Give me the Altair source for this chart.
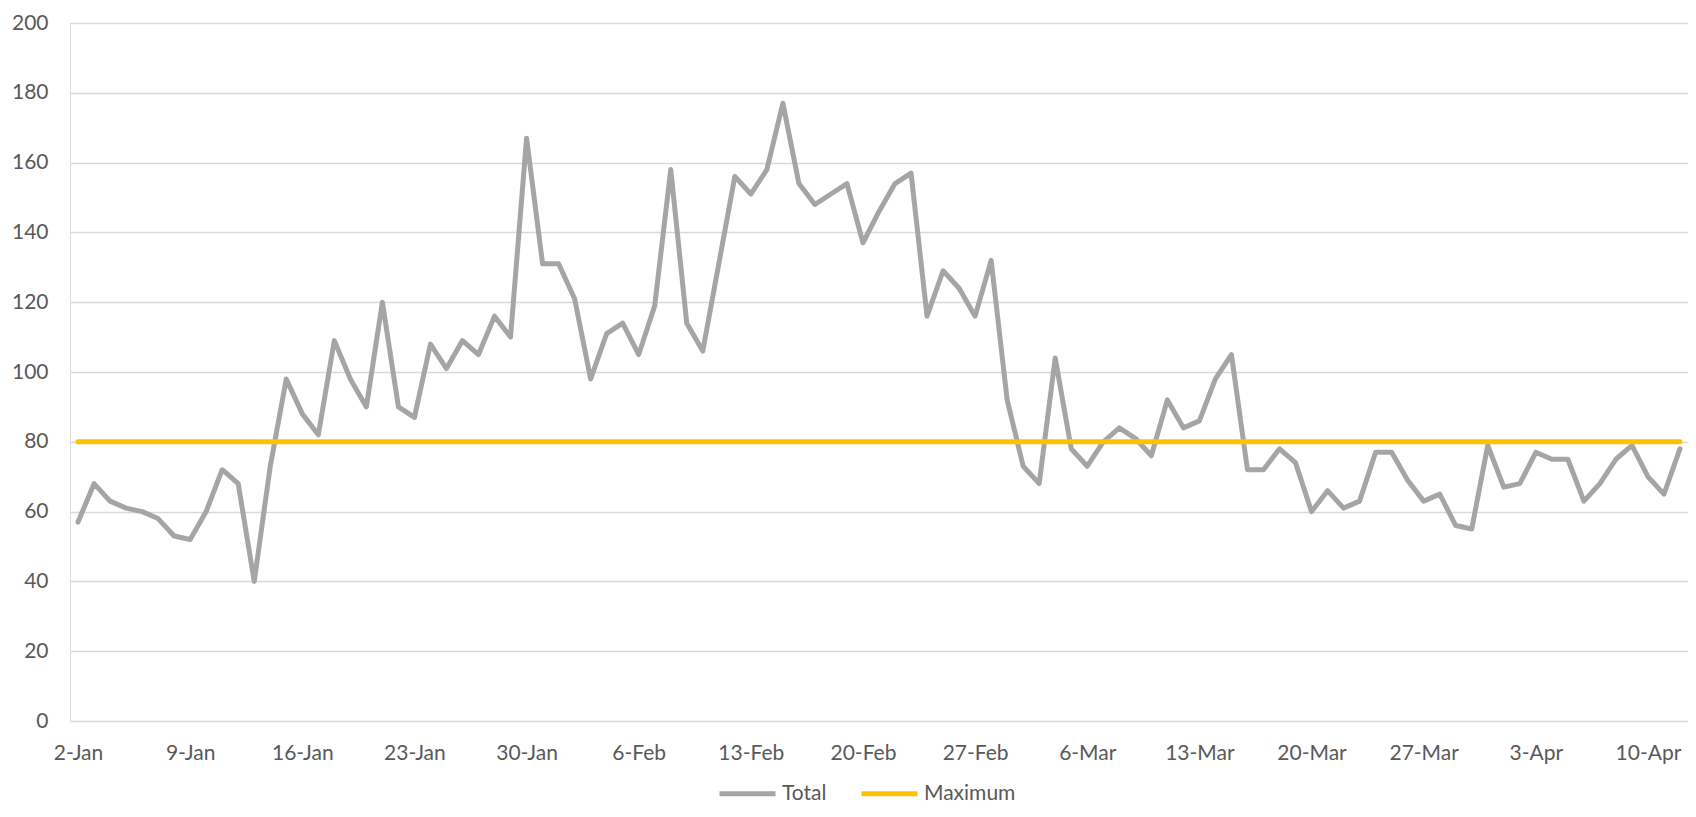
import altair as alt
import pandas as pd

# ---- data ----
dates = pd.date_range("2021-01-02", "2021-04-12", freq="D")

total = [57, 68, 63, 61, 60, 58, 53, 52, 60, 72, 68, 40, 73,
         98, 88, 82, 109, 98, 90, 120, 90, 87, 108, 101, 109, 105, 116,
         110, 167, 131,
         131, 121, 98, 111, 114, 105, 119, 158, 114, 106,
         131, 156, 151, 158, 177, 154, 148, 151, 154, 137, 146, 154, 157, 116,
         129, 124, 116, 132,
         92, 73, 68, 104, 78, 73, 80, 84, 81, 76,
         92, 84, 86, 98, 105, 72, 72, 78, 74, 60, 66, 61, 63, 77,
         77, 69, 63, 65, 56, 55, 79,
         67, 68, 77, 75, 75, 63, 68, 75, 79, 70, 65, 78]

maximum_level = 80
maximum = [maximum_level] * len(total)

series_names = ["Total", "Maximum"]
series_colors = ["#A5A5A5", "#FFC000"]

tick_dates = [(1, 2), (1, 9), (1, 16), (1, 23), (1, 30), (2, 6), (2, 13), (2, 20),
              (2, 27), (3, 6), (3, 13), (3, 20), (3, 27), (4, 3), (4, 10)]
y_ticks = [0, 20, 40, 60, 80, 100, 120, 140, 160, 180, 200]

# ---- build table ----
date_str = dates.strftime("%Y-%m-%dT%H:%M:%S")
df = pd.concat([
    pd.DataFrame({"date": date_str, "value": total, "series": "Total"}),
    pd.DataFrame({"date": date_str, "value": maximum, "series": "Maximum"}),
], ignore_index=True)

FONT = "Lato"
LABEL_COLOR = "#595959"

x_enc = alt.X(
    "date:T",
    scale=alt.Scale(
        domain=[alt.DateTime(year=2021, month=1, date=1, hours=12),
                alt.DateTime(year=2021, month=4, date=12, hours=12)],
        nice=False),
    axis=alt.Axis(
        values=[alt.DateTime(year=2021, month=m, date=d) for m, d in tick_dates],
        format="%-d-%b", title=None, grid=False, domain=False, ticks=False,
        labelFontSize=21, labelFont=FONT, labelColor=LABEL_COLOR,
        labelPadding=21, labelOverlap=False, labelFlush=False),
)
y_enc = alt.Y(
    "value:Q",
    scale=alt.Scale(domain=[0, 200], nice=False),
    axis=alt.Axis(
        values=y_ticks, title=None, domain=False, ticks=False,
        gridColor="#D9D9D9", gridWidth=1.5,
        labelFontSize=21, labelFont=FONT, labelColor=LABEL_COLOR,
        labelPadding=22),
)
color_enc = alt.Color(
    "series:N",
    scale=alt.Scale(domain=series_names, range=series_colors),
    legend=alt.Legend(
        title=None, orient="none", legendX=647, legendY=740,
        direction="horizontal", symbolType="stroke", symbolSize=3136,
        symbolStrokeWidth=5, labelFontSize=21, labelFont=FONT,
        labelColor=LABEL_COLOR, columnPadding=24, labelOffset=4, padding=0),
)

base = alt.Chart(df).encode(x=x_enc, y=y_enc, color=color_enc)

total_layer = base.transform_filter(alt.datum.series == "Total").mark_line(
    strokeWidth=5, strokeJoin="round", strokeCap="round")
max_layer = base.transform_filter(alt.datum.series == "Maximum").mark_line(
    strokeWidth=5, strokeCap="round")

chart = alt.layer(total_layer, max_layer).properties(
    width=1618, height=698,
    autosize=alt.AutoSizeParams(type="none"),
    padding={"left": 62, "top": 15, "right": 0, "bottom": 84},
).configure_view(stroke=None).configure(font=FONT)

chart.save("out.html", embed_options={"renderer": "svg", "actions": False})
